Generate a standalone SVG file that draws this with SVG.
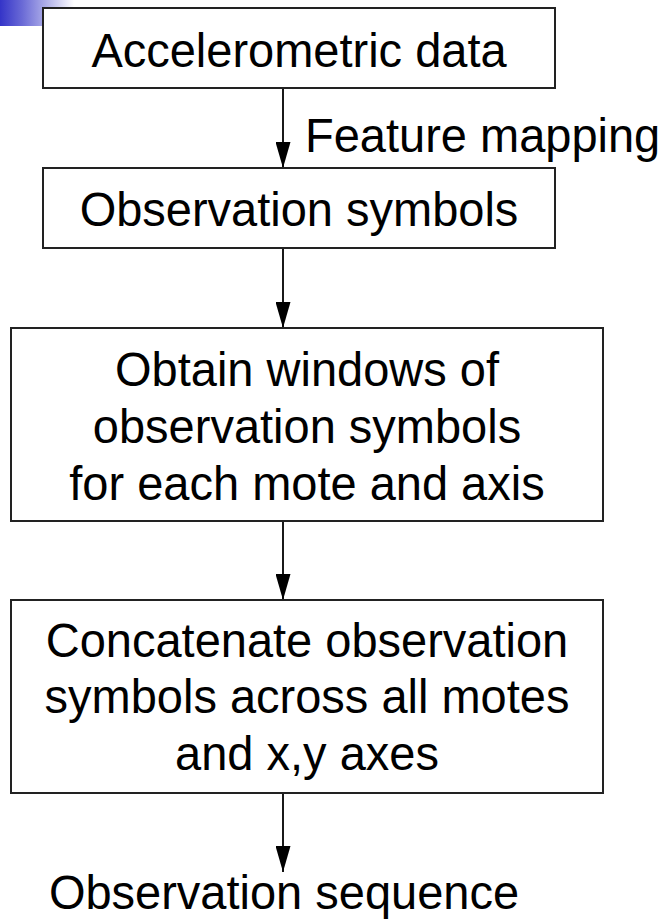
<svg xmlns="http://www.w3.org/2000/svg" width="669" height="921" viewBox="0 0 669 921">
<defs>
<linearGradient id="corner" x1="0" y1="0" x2="1" y2="0">
<stop offset="0" stop-color="#3434c8"/>
<stop offset="0.3" stop-color="#6a6ad6"/>
<stop offset="1" stop-color="#ffffff"/>
</linearGradient>
<marker id="ah" viewBox="0 0 26 15" refX="26" refY="7.5" markerWidth="26" markerHeight="15" markerUnits="userSpaceOnUse" orient="auto">
<path d="M0,0 L26,7.5 L0,15 z" fill="#000"/>
</marker>
</defs>
<style>
.box{fill:#fff;stroke:#222;stroke-width:2}
.t{font-family:"Liberation Sans",Arial,sans-serif;font-size:47px;fill:#000;text-anchor:middle}
.c{stroke:#000;stroke-width:1.8;fill:none}
</style>
<rect width="669" height="921" fill="#fff"/>
<rect x="0" y="0" width="74" height="26" fill="url(#corner)"/>
<g id="connectors">
<line class="c" x1="283" y1="88" x2="283" y2="168" marker-end="url(#ah)"/>
<line class="c" x1="283" y1="248" x2="283" y2="328" marker-end="url(#ah)"/>
<line class="c" x1="283" y1="521" x2="283" y2="600" marker-end="url(#ah)"/>
<line class="c" x1="283" y1="793" x2="283" y2="872" marker-end="url(#ah)"/>
<text class="t" transform="translate(305,152) scale(1,1.04)" style="text-anchor:start">Feature mapping</text>
</g>
<g id="node-accelerometric">
<rect class="box" x="43" y="8" width="512" height="80"/>
<text class="t" transform="translate(299,67) scale(1,1.04)">Accelerometric data</text>
</g>
<g id="node-observation-symbols">
<rect class="box" x="43" y="168" width="512" height="80"/>
<text class="t" transform="translate(299,226) scale(1,1.04)">Observation symbols</text>
</g>
<g id="node-windows">
<rect class="box" x="11" y="328" width="592" height="193"/>
<text class="t" transform="translate(307,386) scale(1,1.04)">Obtain windows of</text>
<text class="t" transform="translate(307,443) scale(1,1.04)">observation symbols</text>
<text class="t" transform="translate(307,500) scale(1,1.04)">for each mote and axis</text>
</g>
<g id="node-concatenate">
<rect class="box" x="11" y="600" width="592" height="193"/>
<text class="t" transform="translate(307,657) scale(1,1.04)">Concatenate observation</text>
<text class="t" transform="translate(307,713) scale(1,1.04)">symbols across all motes</text>
<text class="t" transform="translate(307,770) scale(1,1.04)">and x,y axes</text>
</g>
<g id="node-sequence">
<text class="t" transform="translate(284,909) scale(1,1.04)">Observation sequence</text>
</g>
</svg>
